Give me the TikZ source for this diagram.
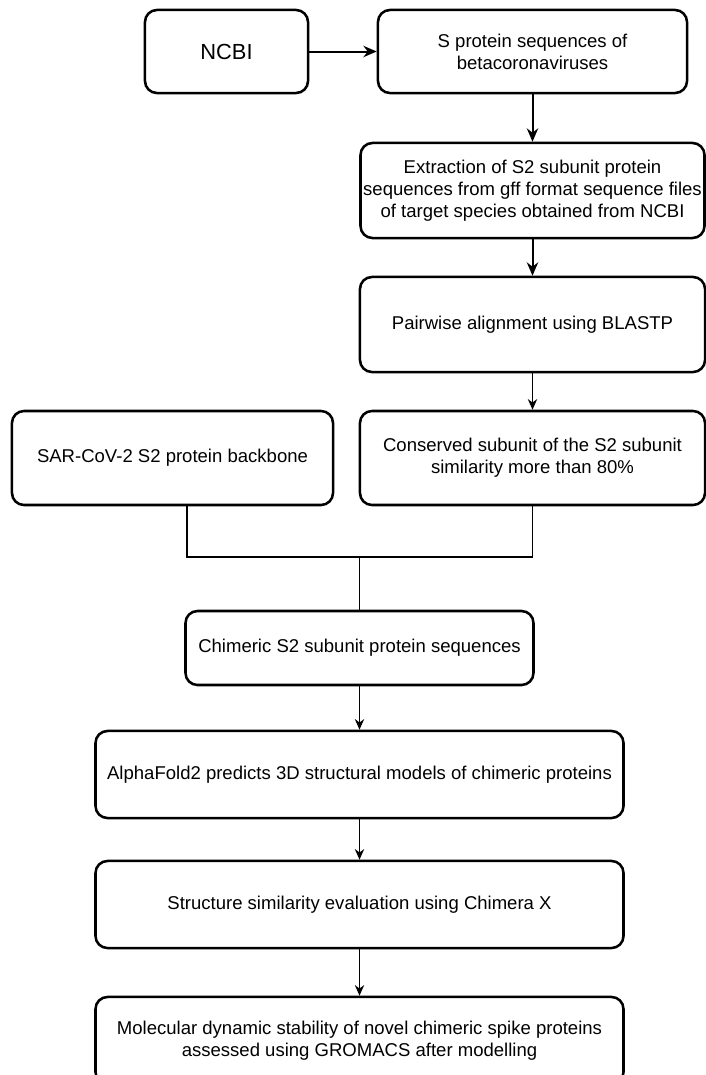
\documentclass[tikz,border=0pt]{standalone}
\usepackage{fontspec}
\setmainfont{Liberation Sans}
\usetikzlibrary{arrows.meta}

\tikzset{
  stepbox/.style={draw, line width=1.9pt, rounded corners=9pt, align=center, inner sep=0pt,
    font=\fontsize{13.9}{16.5}\selectfont},
  thickflow/.style={line width=1.5pt, -{Stealth[length=10pt,width=8.5pt]}},
  thinflow/.style={line width=1pt, -{Stealth[length=8pt,width=7pt]}},
  thinline/.style={line width=1pt},
}

\begin{document}
\begin{tikzpicture}[x=0.75pt,y=-0.75pt]
\useasboundingbox (0,0) rectangle (706,1075);
% boxes, placed at pixel centres of the reference
\node[stepbox, minimum width=122.3pt, minimum height=62.3pt, font=\fontsize{16.4}{19}\selectfont] (ncbi) at (226.5,51.5) {NCBI};
\node[stepbox, minimum width=231.8pt, minimum height=62.3pt] (sprot) at (532.5,51.5) {S protein sequences of\\betacoronaviruses};
\node[stepbox, minimum width=258pt, minimum height=71.3pt] (extract) at (532.5,190.5) {Extraction of S2 subunit protein\\sequences from gff format sequence files\\of target species obtained from NCBI};
\node[stepbox, minimum width=258.8pt, minimum height=71.3pt] (blastp) at (532.5,324.5) {Pairwise alignment using BLASTP};
\node[stepbox, minimum width=258.8pt, minimum height=70.5pt] (conserved) at (532.5,458) {Conserved subunit of the S2 subunit\\similarity more than 80\%};
\node[stepbox, minimum width=240.8pt, minimum height=70.5pt] (backbone) at (172.5,458) {SAR-CoV-2 S2 protein backbone};
\node[stepbox, minimum width=261pt, minimum height=55.5pt] (chimeric) at (359.5,648) {Chimeric S2 subunit protein sequences};
\node[stepbox, minimum width=396pt, minimum height=65.3pt] (alphafold) at (359.5,774.5) {AlphaFold2 predicts 3D structural models of chimeric proteins};
\node[stepbox, minimum width=396pt, minimum height=65.3pt] (chimerax) at (359.5,904.5) {Structure similarity evaluation using Chimera X};
\node[stepbox, minimum width=396pt, minimum height=65.3pt] (gromacs) at (359.5,1040.5) {Molecular dynamic stability of novel chimeric spike proteins\\assessed using GROMACS after modelling};

% joining points
\coordinate (bbfoot) at (187,557);
\coordinate (csfoot) at (532.5,557);
\coordinate (join) at (359.5,557);

% connectors
\draw[thickflow] (ncbi) -- (sprot);
\draw[thickflow] (sprot) -- (extract);
\draw[thickflow] (extract) -- (blastp);
\draw[thinflow] (blastp) -- (conserved);
\draw[thinline] (backbone.south -| bbfoot) -- (bbfoot) -- (csfoot) -- (conserved.south);
\draw[thinline] (join) -- (chimeric.north);
\draw[thinflow] (chimeric) -- (alphafold);
\draw[thinflow] (alphafold) -- (chimerax);
\draw[thinflow] (chimerax) -- (gromacs);
\end{tikzpicture}
\end{document}
